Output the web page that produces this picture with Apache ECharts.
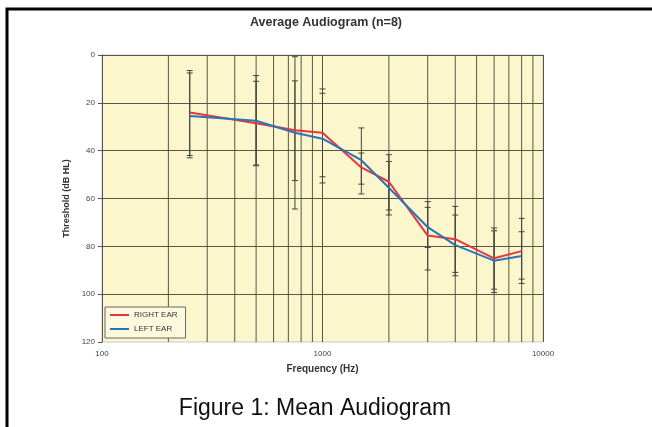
<!DOCTYPE html>
<html>
<head>
<meta charset="utf-8">
<script src="https://cdn.jsdelivr.net/npm/echarts@6/dist/echarts.min.js"></script>
<style>
html,body{margin:0;padding:0;background:#fff}
#main{width:652px;height:427px}
</style>
</head>
<body>
<div id="main"></div>
<script>
// frequencies (Hz) and mean thresholds (dB HL)
var freqs = [250, 500, 750, 1000, 1500, 2000, 3000, 4000, 6000, 8000];
var rightEar = [24, 28.5, 31.5, 32.5, 47, 53, 75.5, 77, 85, 82];
var leftEar = [25.5, 27.5, 32.5, 35, 44, 55.5, 72, 79.5, 86, 84];
// error bar ends (mean +/- sd)
var rightTop = [6.5, 11, 10.8, 14.2, 41, 41.7, 61.3, 63.3, 72.3, 68.3];
var rightBottom = [42, 46, 52.5, 50.9, 54, 64.8, 89.9, 90.9, 97.9, 95.5];
var leftTop = [7.5, 8.6, 0.7, 16, 30.5, 44.5, 63.7, 66.9, 73.5, 73.9];
var leftBottom = [43, 46.3, 64.4, 53.5, 58.1, 66.9, 80.5, 92.3, 99.3, 93.7];
// log minor grid lines
var minorFreqs = [200, 300, 400, 500, 600, 700, 800, 900, 2000, 3000, 4000, 5000, 6000, 7000, 8000, 9000];

var gridColor = '#57564a';
var errColor = '#44443e';

function pairs(xs, ys) {
    return xs.map(function (x, i) { return [x, ys[i]]; });
}
var errData = [];
freqs.forEach(function (f, i) {
    errData.push([f, rightTop[i], rightBottom[i]]);
    errData.push([f, leftTop[i], leftBottom[i]]);
});

function renderErr(params, api) {
    var f = api.value(0);
    var a = api.coord([f, api.value(1)]);
    var b = api.coord([f, api.value(2)]);
    var w = 3;
    var st = {stroke: errColor, lineWidth: 1};
    return {
        type: 'group',
        children: [
            {type: 'line', shape: {x1: a[0], y1: a[1], x2: b[0], y2: b[1]}, style: st},
            {type: 'line', shape: {x1: a[0] - w, y1: a[1], x2: a[0] + w, y2: a[1]}, style: st},
            {type: 'line', shape: {x1: b[0] - w, y1: b[1], x2: b[0] + w, y2: b[1]}, style: st}
        ]
    };
}

function renderMinor(params, api) {
    var f = api.value(0);
    var a = api.coord([f, 0]);
    var b = api.coord([f, 120]);
    return {type: 'line', shape: {x1: a[0], y1: a[1], x2: b[0], y2: b[1]},
        style: {stroke: gridColor, lineWidth: 1}};
}

var myChart = echarts.init(document.getElementById('main'));
var option = {
    animation: false,
    title: {
        text: 'Average Audiogram (n=8)',
        left: 'center',
        top: 11,
        textStyle: {fontFamily: 'Liberation Sans', fontSize: 12.5, fontWeight: 'bold', color: '#333'}
    },
    grid: {
        left: 102, right: 109, top: 55, bottom: 85,
        show: true,
        backgroundColor: '#fcf6cd',
        borderColor: '#c9c9c9',
        borderWidth: 1
    },
    legend: {
        orient: 'vertical',
        left: 105,
        top: 307,
        padding: [3, 8, 4, 5],
        itemGap: 4,
        itemWidth: 19,
        itemHeight: 2,
        icon: 'rect',
        backgroundColor: '#fdf9df',
        borderColor: '#666',
        borderWidth: 1,
        textStyle: {fontFamily: 'Liberation Sans', fontSize: 8, color: '#333', lineHeight: 10},
        data: ['RIGHT EAR', 'LEFT EAR']
    },
    xAxis: {
        type: 'log',
        logBase: 10,
        min: 100,
        max: 10000,
        name: 'Frequency (Hz)',
        nameLocation: 'middle',
        nameGap: 22,
        nameTextStyle: {fontFamily: 'Liberation Sans', fontSize: 10, fontWeight: 'bold', color: '#333'},
        axisLine: {lineStyle: {color: '#555', width: 1}},
        axisTick: {show: true, length: 4, lineStyle: {color: '#555'}},
        axisLabel: {
            fontFamily: 'Liberation Sans', fontSize: 8, color: '#444', margin: 8,
            formatter: function (v) { return String(Math.round(v)); }
        },
        splitLine: {show: true, lineStyle: {color: gridColor, width: 1}},
        minorTick: {show: false},
        minorSplitLine: {show: false}
    },
    yAxis: {
        type: 'value',
        inverse: true,
        min: 0,
        max: 120,
        interval: 20,
        name: 'Threshold (dB HL)',
        nameLocation: 'middle',
        nameGap: 29,
        nameTextStyle: {fontFamily: 'Liberation Sans', fontSize: 9, fontWeight: 'bold', color: '#333'},
        axisLine: {show: true, lineStyle: {color: '#555', width: 1}},
        axisTick: {show: true, length: 4, lineStyle: {color: '#555'}},
        axisLabel: {fontFamily: 'Liberation Sans', fontSize: 8, color: '#444', margin: 7},
        splitLine: {show: true, showMinLine: false, showMaxLine: false, lineStyle: {color: gridColor, width: 1}}
    },
    series: [
        {
            name: 'minor',
            type: 'custom',
            renderItem: renderMinor,
            data: minorFreqs.map(function (f) { return [f, 0, 120]; }),
            encode: {x: 0, y: [1, 2]},
            silent: true,
            z: 1
        },
        {
            name: 'errors',
            type: 'custom',
            renderItem: renderErr,
            data: errData,
            encode: {x: 0, y: [1, 2]},
            silent: true,
            z: 2
        },
        {
            name: 'RIGHT EAR',
            type: 'line',
            data: pairs(freqs, rightEar),
            showSymbol: false,
            symbol: 'none',
            lineStyle: {color: '#e8353f', width: 2},
            itemStyle: {color: '#e8353f'},
            z: 4
        },
        {
            name: 'LEFT EAR',
            type: 'line',
            data: pairs(freqs, leftEar),
            showSymbol: false,
            symbol: 'none',
            lineStyle: {color: '#2b74b6', width: 2},
            itemStyle: {color: '#2b74b6'},
            z: 5
        }
    ],
    graphic: [
        {
            type: 'polyline',
            shape: {points: [[7, 427], [7, 9], [652, 9]]},
            style: {stroke: '#000', lineWidth: 3, fill: null},
            z: 10
        },
        {
            type: 'text',
            x: 315,
            y: 409,
            style: {
                text: 'Figure 1: Mean Audiogram',
                fontFamily: 'Liberation Sans',
                fontSize: 23,
                fill: '#111',
                textAlign: 'center',
                textVerticalAlign: 'middle'
            }
        }
    ]
};
myChart.setOption(option);
</script>
</body>
</html>
